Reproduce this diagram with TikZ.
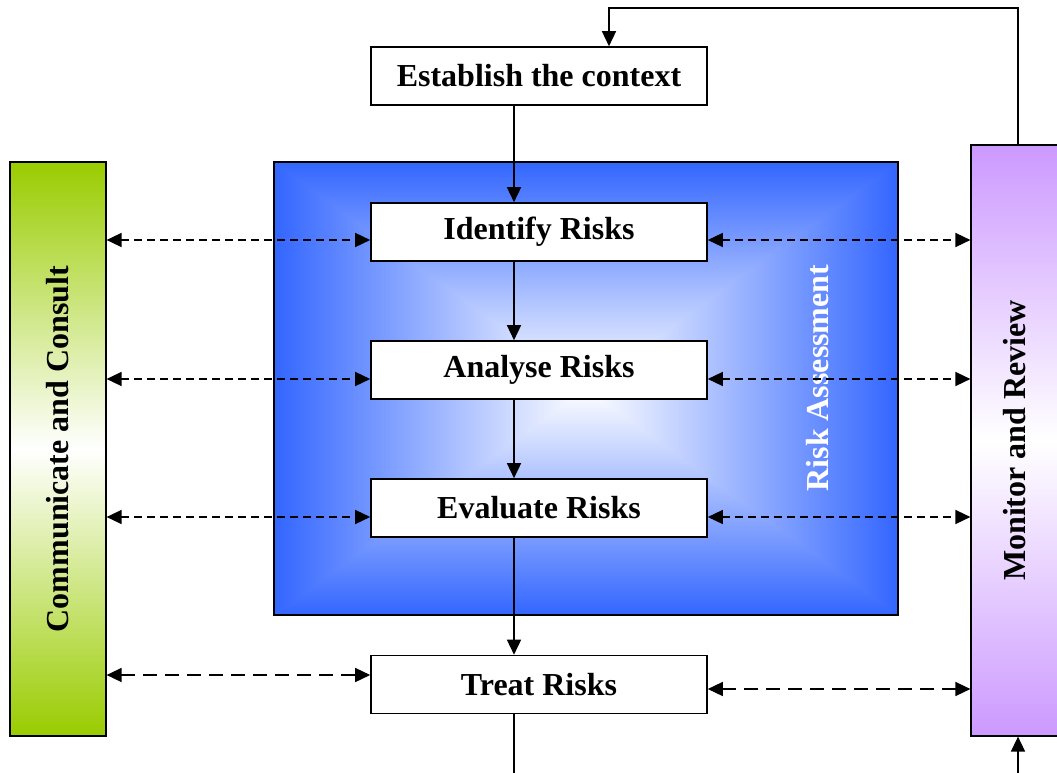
\documentclass[tikz,border=0pt]{standalone}
\usepackage{fontspec}
\setmainfont{Liberation Serif}
\usetikzlibrary{arrows.meta}
\definecolor{rablue}{RGB}{51,102,255}
\definecolor{ccgreen}{RGB}{153,204,0}
\definecolor{mrpurple}{RGB}{204,153,255}
% white in the centre, blue towards every edge
\pgfdeclarefunctionalshading{rectglow}{\pgfpoint{-50bp}{-50bp}}{\pgfpoint{50bp}{50bp}}{}{
  abs 25 div exch abs 25 div
  2 copy lt {exch} if pop
  dup 1 gt {pop 1} if
  dup 0.8 mul 1 exch sub exch
  0.6 mul 1 exch sub
  1
}

\begin{document}
\begin{tikzpicture}[x=1pt,y=-1pt,line join=miter,
  stage/.style={draw=black,line width=1.6pt,fill=white,minimum width=336pt,minimum height=58pt,inner sep=0pt,font=\bfseries\fontsize{32}{38}\selectfont},
  bar/.style={draw=black,line width=1.2pt,inner sep=0pt,font=\bfseries\fontsize{32}{38}\selectfont},
  flow/.style={line width=1.5pt,-{Triangle[length=15pt,width=14pt]}},
  link/.style={line width=1.5pt,{Triangle[length=15pt,width=14pt]}-{Triangle[length=15pt,width=14pt]},dash pattern=on 8pt off 5pt},
  linklong/.style={link,dash pattern=on 14pt off 8pt}]
\useasboundingbox (0,0) rectangle (1057,773);
% risk assessment panel
\shade[shading=rectglow] (274,162) rectangle (898,615);
\draw[line width=1.2pt] (274,162) rectangle (898,615);
\node[rotate=90,text=white,font=\bfseries\fontsize{32}{38}\selectfont] (assess) at (818,378) {Risk Assessment};
% side bars
\node[bar,minimum width=96pt,minimum height=574pt,top color=ccgreen,bottom color=ccgreen,middle color=white] (comm) at (58,449) {\rotatebox{90}{Communicate and Consult}};
\node[bar,minimum width=88pt,minimum height=591pt,top color=mrpurple,bottom color=mrpurple,middle color=white] (mon) at (1015,440.5) {\rotatebox{90}{Monitor and Review}};
% process steps
\node[stage] (est) at (539,76) {Establish the context};
\node[stage] (ident) at (539,232) {Identify Risks};
\node[stage] (anal) at (539,370) {Analyse Risks};
\node[stage] (eval) at (539,508) {Evaluate Risks};
\node[stage] (treat) at (539,684.5) {Treat Risks};
\coordinate (spine) at (514,0);
\coordinate (fbR) at (1018,8);
\coordinate (fbL) at (609,8);
\coordinate (botR) at (1018,773);
\coordinate (botL) at (514,773);
% main flow
\draw[flow] (est.south -| spine) -- (ident.north -| spine);
\draw[flow] (ident.south -| spine) -- (anal.north -| spine);
\draw[flow] (anal.south -| spine) -- (eval.north -| spine);
\draw[flow] (eval.south -| spine) -- (treat.north -| spine);
\draw[line width=1.5pt] (treat.south -| spine) -- (botL);
\draw[flow] (fbR |- mon.north) -- (fbR) -- (fbL) -- (fbL |- est.north);
\draw[flow] (botR) -- (botR |- mon.south);
% consultation and review links
\draw[link] ([yshift=-8pt]comm.east |- ident.west) -- ([yshift=-8pt]ident.west);
\draw[link] ([yshift=-8pt]ident.east) -- ([yshift=-8pt]mon.west |- ident.east);
\draw[link] ([yshift=-9pt]comm.east |- anal.west) -- ([yshift=-9pt]anal.west);
\draw[link] ([yshift=-9pt]anal.east) -- ([yshift=-9pt]mon.west |- anal.east);
\draw[link] ([yshift=-9pt]comm.east |- eval.west) -- ([yshift=-9pt]eval.west);
\draw[link] ([yshift=-9pt]eval.east) -- ([yshift=-9pt]mon.west |- eval.east);
\draw[linklong] ([yshift=9.5pt]comm.east |- treat.west) -- ([yshift=9.5pt]treat.west);
\draw[linklong] ([yshift=-4.5pt]treat.east) -- ([yshift=-4.5pt]mon.west |- treat.east);
\end{tikzpicture}
\end{document}
